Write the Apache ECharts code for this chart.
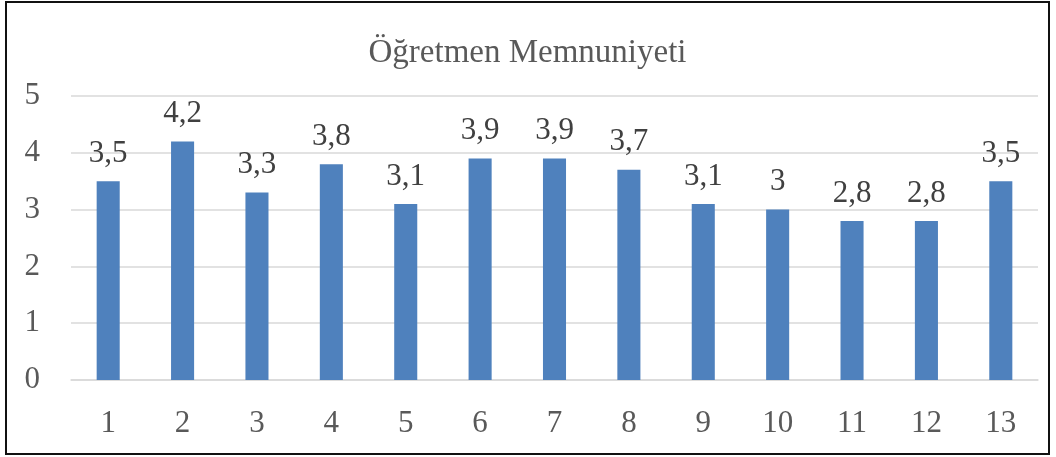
<!DOCTYPE html>
<html>
<head>
    <meta charset="utf-8"/>
    <title>Öğretmen Memnuniyeti</title>
    <style>
        body { margin: 0; background: #fff; }
        #frame { position: absolute; left: 5px; top: 1px; width: 1041px; height: 450px; border: 2px solid #111; }
        #main { width: 1041px; height: 450px; }
    </style>
</head>
<body>
<script type="text/javascript" src="https://cdn.jsdelivr.net/npm/echarts@6/dist/echarts.min.js"></script>
<div id="frame"><div id="main"></div></div>
<script type="text/javascript">
    var categories = ['1', '2', '3', '4', '5', '6', '7', '8', '9', '10', '11', '12', '13'];
    var values = [3.5, 4.2, 3.3, 3.8, 3.1, 3.9, 3.9, 3.7, 3.1, 3.0, 2.8, 2.8, 3.5];
    var yTicks = [0, 1, 2, 3, 4, 5];

    var fontFam = '"Liberation Serif", serif';
    var myChart = echarts.init(document.getElementById('main'));

    var option = {
        animation: false,
        title: {
            text: 'Öğretmen Memnuniyeti',
            left: 'center',
            top: 29,
            textStyle: { color: '#595959', fontSize: 33, fontWeight: 'normal', fontFamily: fontFam }
        },
        grid: { left: 64, right: 10, top: 93, bottom: 73, containLabel: false },
        xAxis: {
            type: 'category',
            data: categories,
            axisLine: { lineStyle: { color: '#d9d9d9', width: 1.5 } },
            axisTick: { show: false },
            axisLabel: { color: '#595959', fontSize: 31, fontFamily: fontFam, margin: 28 }
        },
        yAxis: {
            type: 'value',
            min: yTicks[0],
            max: yTicks[yTicks.length - 1],
            interval: 1,
            axisLine: { show: false },
            axisTick: { show: false },
            splitLine: { lineStyle: { color: '#d9d9d9', width: 1.5 } },
            axisLabel: { color: '#595959', fontSize: 31, fontFamily: fontFam, margin: 31 }
        },
        series: [{
            type: 'bar',
            data: values,
            barWidth: '31%',
            itemStyle: { color: '#4f81bd' },
            label: {
                show: true,
                position: 'top',
                distance: 12,
                color: '#404040',
                fontSize: 31,
                fontFamily: fontFam,
                formatter: function (p) { return String(p.value).replace('.', ','); }
            }
        }]
    };

    myChart.setOption(option);
</script>
</body>
</html>
